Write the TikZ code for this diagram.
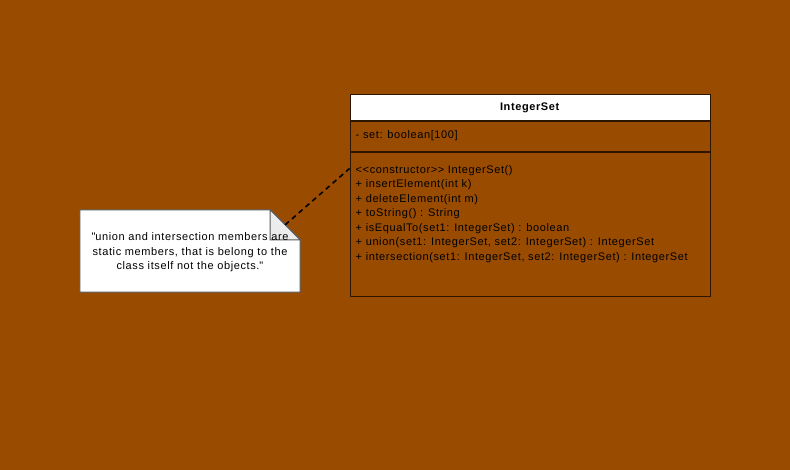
\documentclass[tikz,border=0pt]{standalone}
\usepackage{fontspec}
\setmainfont{Liberation Sans}
\newfontfamily\umlfont[LetterSpace=5.5]{Liberation Sans}
\usepackage{xcolor}
\usepackage{tikz}
\usetikzlibrary{positioning}
\definecolor{bgbrown}{RGB}{153,76,0}
\definecolor{lineborder}{RGB}{45,22,0}
\definecolor{notegray}{RGB}{90,90,90}
\definecolor{foldfill}{RGB}{236,236,236}

\begin{document}
\begin{tikzpicture}[
    x=1pt, y=-1pt,
    every node/.style={font=\umlfont\fontsize{11}{14.5}\selectfont, inner sep=0pt},
    compart/.style={draw=lineborder, line width=1pt, minimum width=360pt, fill=bgbrown},
    classhead/.style={compart, fill=white, minimum height=26pt},
    member/.style={align=left, anchor=north west},
    notebox/.style={minimum width=220pt, minimum height=82pt, align=center}
]
\fill[bgbrown] (0,0) rectangle (790,470);
\useasboundingbox (0,0) rectangle (790,470);

\node[classhead] (head) at (530,108) {\raisebox{-1.5pt}{\textbf{IntegerSet}}};
\node[compart, minimum height=30pt, below=0pt of head] (attrs) {};
\node[compart, minimum height=144pt, below=0pt of attrs] (ops) {};
\node[member] (attrtext) at ([xshift=6pt,yshift=-9pt]attrs.north west) {- set: boolean[100]};
\node[member] (optext) at ([xshift=6pt,yshift=-12.5pt]ops.north west) {%
    \textless{}\textless{}constructor\textgreater{}\textgreater{} IntegerSet()\\
    + insertElement(int k)\\
    + deleteElement(int m)\\
    + toString() : String\\
    + isEqualTo(set1: IntegerSet) : boolean\\
    + union(set1: IntegerSet, set2: IntegerSet) : IntegerSet\\
    + intersection(set1: IntegerSet, set2: IntegerSet) : IntegerSet};

\node[notebox] (note) at (190,251) {};
\filldraw[fill=white, draw=notegray, line width=1pt]
    (note.south west) -- (note.north west) -- ([xshift=-30pt]note.north east)
    -- ([yshift=-30pt]note.north east) -- (note.south east) -- cycle;
\filldraw[fill=foldfill, draw=notegray, line width=1pt]
    ([xshift=-30pt]note.north east) -- ([xshift=-30pt,yshift=-30pt]note.north east)
    -- ([yshift=-30pt]note.north east) -- cycle;
\node[align=center] (notetext) at ([yshift=-1.5pt]note.center) {\textquotedbl{}union and intersection members are\\
    static members, that is belong to the\\
    class itself not the objects.\textquotedbl};

\coordinate (notecorner) at ([xshift=-15pt,yshift=-15pt]note.north east);
\coordinate (opsanchor) at ([yshift=-16pt]ops.north west);
\draw[dashed, line width=1.6pt, dash pattern=on 5pt off 4pt] (notecorner) -- (opsanchor);
\end{tikzpicture}
\end{document}
